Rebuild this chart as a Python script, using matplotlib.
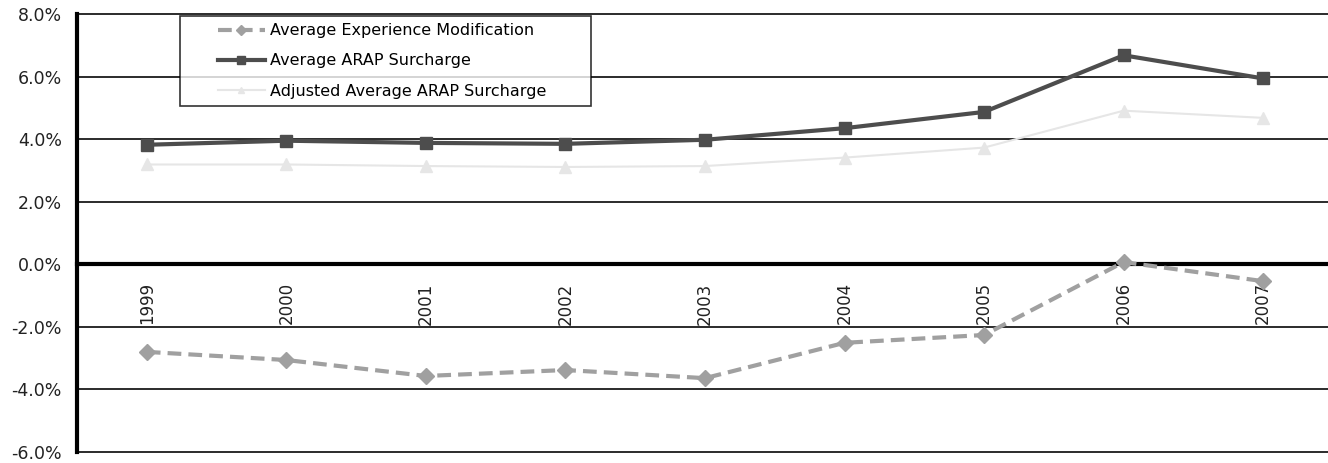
import matplotlib
matplotlib.use("Agg")
import matplotlib.pyplot as plt
from matplotlib.ticker import FuncFormatter
from matplotlib.legend_handler import HandlerLine2D

# data (percent)
years = ["1999", "2000", "2001", "2002", "2003", "2004", "2005", "2006", "2007"]
exp_mod = [-2.80, -3.06, -3.57, -3.38, -3.64, -2.51, -2.26, 0.07, -0.54]
arap = [3.82, 3.95, 3.88, 3.85, 3.98, 4.35, 4.87, 6.68, 5.94]
arap_adj = [3.19, 3.19, 3.14, 3.11, 3.14, 3.41, 3.73, 4.91, 4.68]
y_ticks = [-6, -4, -2, 0, 2, 4, 6, 8]

plt.rcParams["font.family"] = "DejaVu Sans"


class IndentedLine(HandlerLine2D):
    # keeps an empty gap on the left of each legend handle, like Excel does
    def create_artists(self, legend, orig_handle, xdescent, ydescent,
                       width, height, fontsize, trans):
        gap = 1.9 * fontsize
        return super().create_artists(legend, orig_handle, xdescent - gap,
                                      ydescent, width - gap, height,
                                      fontsize, trans)


fig = plt.figure(figsize=(13.28, 4.63), dpi=100)
# plot area: x 77..1333 px, y 14..452 px
ax = fig.add_axes([77 / 1328, 1 - 452 / 463, 1256 / 1328, 438 / 463])

x = list(range(len(years)))

ax.plot(x, exp_mod, color="#A0A0A0", lw=3, ls=(0, (3.3, 1.7)),
        marker="D", ms=8, mec="#A0A0A0", label="Average Experience Modification", zorder=5)
ax.plot(x, arap, color="#4D4D4D", lw=3, marker="s", ms=9,
        label="Average ARAP Surcharge", zorder=5)
ax.plot(x, arap_adj, color="#E6E6E6", lw=1.5, marker="^", ms=8,
        label="Adjusted Average ARAP Surcharge", zorder=4)

ax.set_xlim(-0.5, len(years) - 0.5)
ax.set_ylim(-6, 8)

# horizontal grid lines
for yv in y_ticks:
    if yv != 0:
        ax.axhline(yv, color="#1a1a1a", lw=1.3, zorder=1, clip_on=False)

ax.spines["top"].set_visible(False)
ax.spines["right"].set_visible(False)
ax.spines["left"].set_linewidth(3)
ax.spines["bottom"].set_position(("data", 0))
ax.spines["bottom"].set_linewidth(3)
ax.spines["bottom"].set_zorder(3)

ax.set_yticks(y_ticks)
ax.yaxis.set_major_formatter(FuncFormatter(lambda v, p: f"{v:.1f}%"))
ax.tick_params(axis="y", length=0, pad=11, labelsize=12.5, colors="#222222")

ax.set_xticks(x)
ax.set_xticklabels(years, rotation=90)
ax.tick_params(axis="x", length=0, pad=13, labelsize=12, colors="#222222")

# legend box: 180..591 px wide, 16..104 px tall
leg = ax.legend(loc="upper left",
                bbox_to_anchor=(103 / 1256, 436 / 438, 411 / 1256, 0),
                mode="expand", borderaxespad=0, fontsize=11.5, frameon=True,
                fancybox=False, edgecolor="black", handlelength=4.9,
                handletextpad=0.3, labelspacing=0.95, borderpad=0.45,
                markerscale=0.6, handler_map={plt.Line2D: IndentedLine()})
leg.get_frame().set_linewidth(1.2)
leg.set_zorder(10)

fig.savefig("out.png", dpi=100)
